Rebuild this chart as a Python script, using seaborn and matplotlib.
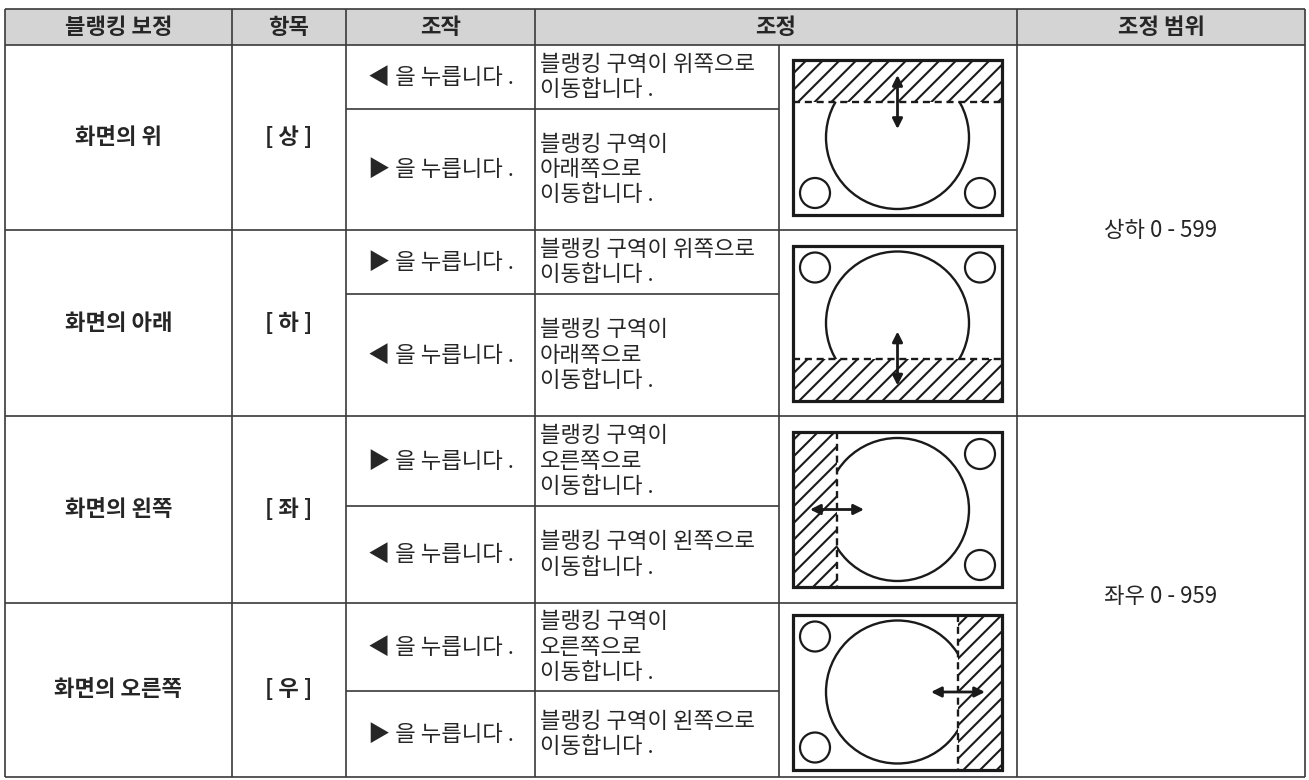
import matplotlib
matplotlib.use("Agg")
import matplotlib.pyplot as plt
from matplotlib.patches import Rectangle, Circle
import seaborn as sns

sns.set_theme(style="white")
plt.rcParams['font.family'] = ['Noto Sans CJK KR', 'DejaVu Sans']
plt.rcParams['hatch.linewidth'] = 1.5

# table content
headers = ["블랭킹 보정", "항목", "조작", "조정", "조정 범위"]
positions = ["화면의 위", "화면의 아래", "화면의 왼쪽", "화면의 오른쪽"]
items = ["[ 상 ]", "[ 하 ]", "[ 좌 ]", "[ 우 ]"]
keys = [["◀", "▶"], ["▶", "◀"], ["▶", "◀"], ["◀", "▶"]]
results = [
    ["블랭킹 구역이 위쪽으로\n이동합니다 .", "블랭킹 구역이\n아래쪽으로\n이동합니다 ."],
    ["블랭킹 구역이 위쪽으로\n이동합니다 .", "블랭킹 구역이\n아래쪽으로\n이동합니다 ."],
    ["블랭킹 구역이\n오른쪽으로\n이동합니다 .", "블랭킹 구역이 왼쪽으로\n이동합니다 ."],
    ["블랭킹 구역이\n오른쪽으로\n이동합니다 .", "블랭킹 구역이 왼쪽으로\n이동합니다 ."],
]
blank_sides = ["top", "bottom", "left", "right"]
ranges = ["상하 0 - 599", "좌우 0 - 959"]

# layout in pixels
W, H = 1309, 780
col_x = [5, 232, 346, 535, 779, 1017, 1305]
head_y = (9, 45)
block_y = [45, 230, 416, 603, 777]
split_y = [109, 294, 506, 691]
line_c = "#3a3a3a"
ink = "#1a1a1a"
fs = 16


def draw_screen(ax, x0, y0, side, w=209, h=155):
    cx, cy = x0 + w / 2, y0 + h / 2
    ax.add_patch(Circle((cx, cy), 71.5, fill=False, lw=1.7, ec=ink, zorder=2))
    corners = {
        "top": [(22, h - 22), (w - 22, h - 22)],
        "bottom": [(22, 22), (w - 22, 22)],
        "left": [(w - 22, 22), (w - 22, h - 22)],
        "right": [(22, 22), (22, h - 22)],
    }[side]
    for dx, dy in corners:
        ax.add_patch(Circle((x0 + dx, y0 + dy), 15, fill=False, lw=1.6, ec=ink, zorder=2))

    bh, bw = 42, 44
    if side == "top":
        band = (x0, y0, w, bh); edge = ([x0, x0 + w], [y0 + bh] * 2)
        arr = ((cx, y0 + bh - 27), (cx, y0 + bh + 27))
    elif side == "bottom":
        band = (x0, y0 + h - bh, w, bh); edge = ([x0, x0 + w], [y0 + h - bh] * 2)
        arr = ((cx, y0 + h - bh - 27), (cx, y0 + h - bh + 27))
    elif side == "left":
        band = (x0, y0, bw, h); edge = ([x0 + bw] * 2, [y0, y0 + h])
        arr = ((x0 + bw - 27, cy), (x0 + bw + 27, cy))
    else:
        band = (x0 + w - bw, y0, bw, h); edge = ([x0 + w - bw] * 2, [y0, y0 + h])
        arr = ((x0 + w - bw - 27, cy), (x0 + w - bw + 27, cy))

    bx, by, bww, bhh = band
    ax.add_patch(Rectangle((bx, by), bww, bhh, facecolor="white", edgecolor=ink,
                           lw=0, hatch="//", zorder=3))
    ax.plot(edge[0], edge[1], color=ink, lw=1.7, dashes=(3, 2), zorder=4)
    ax.annotate("", xy=arr[0], xytext=arr[1],
                arrowprops=dict(arrowstyle="<|-|>", color=ink, lw=2.0,
                                mutation_scale=15, shrinkA=0, shrinkB=0),
                zorder=6)
    ax.add_patch(Rectangle((x0, y0), w, h, fill=False, lw=2.3, ec=ink, zorder=5))


fig = plt.figure(figsize=(W / 100, H / 100), dpi=100)
ax = fig.add_axes([0, 0, 1, 1])
ax.set_xlim(0, W)
ax.set_ylim(H, 0)
ax.axis("off")

# header
ax.add_patch(Rectangle((col_x[0], head_y[0]), col_x[-1] - col_x[0], head_y[1] - head_y[0],
                       facecolor="#d4d4d4", edgecolor="none", zorder=0))
head_cx = [(col_x[0] + col_x[1]) / 2, (col_x[1] + col_x[2]) / 2, (col_x[2] + col_x[3]) / 2,
           (col_x[3] + col_x[5]) / 2, (col_x[5] + col_x[6]) / 2]
for x, t in zip(head_cx, headers):
    ax.text(x, sum(head_y) / 2, t, ha="center", va="center", fontsize=fs, fontweight="bold")

# grid lines
lw = 1.2
ax.hlines([head_y[0], head_y[1], block_y[2], block_y[4]], col_x[0], col_x[-1], color=line_c, lw=lw)
ax.hlines([block_y[1], block_y[3]], col_x[0], col_x[5], color=line_c, lw=lw)
ax.hlines(split_y, col_x[2], col_x[4], color=line_c, lw=lw)
ax.vlines([col_x[0], col_x[1], col_x[2], col_x[3], col_x[5], col_x[6]], head_y[0], block_y[-1],
          color=line_c, lw=lw)
ax.vlines(col_x[4], head_y[1], block_y[-1], color=line_c, lw=lw)

# body
for i in range(4):
    top, bot = block_y[i], block_y[i + 1]
    mid = (top + bot) / 2
    ax.text(head_cx[0], mid, positions[i], ha="center", va="center", fontsize=fs, fontweight="bold")
    ax.text(head_cx[1], mid, items[i], ha="center", va="center", fontsize=fs, fontweight="bold")
    subs = [(top, split_y[i]), (split_y[i], bot)]
    for j, (a, b) in enumerate(subs):
        ym = (a + b) / 2
        ax.text(head_cx[2], ym, keys[i][j] + " 을 누릅니다 .", ha="center", va="center", fontsize=fs)
        ax.text(col_x[3] + 5, ym, results[i][j], ha="left", va="center", fontsize=fs,
                linespacing=1.12)
    draw_screen(ax, 793, (top + bot) / 2 - 77.5 + (2 if i == 3 else 0), blank_sides[i])

for k, t in enumerate(ranges):
    ym = (block_y[2 * k] + block_y[2 * k + 2]) / 2
    ax.text(head_cx[4], ym, t, ha="center", va="center", fontsize=fs)

fig.savefig("out.png", dpi=100)
